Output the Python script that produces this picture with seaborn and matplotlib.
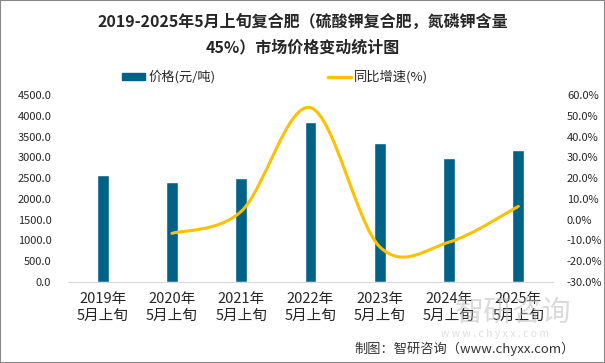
import matplotlib
matplotlib.use('Agg')
import matplotlib.pyplot as plt
import numpy as np
import pandas as pd
import seaborn as sns
from matplotlib.path import Path
from matplotlib.patches import PathPatch, Rectangle
from matplotlib.lines import Line2D

years = ['2019年\n5月上旬', '2020年\n5月上旬', '2021年\n5月上旬', '2022年\n5月上旬',
         '2023年\n5月上旬', '2024年\n5月上旬', '2025年\n5月上旬']
price = [2575, 2406, 2502, 3850, 3345, 2984, 3176]
growth = [None, -6.6, 4.0, 53.9, -13.1, -10.8, 6.4]

bar_color = '#006287'
line_color = '#FFC000'

sns.set_style('white')
plt.rcParams['font.family'] = ['Noto Sans CJK SC', 'DejaVu Sans']
plt.rcParams['axes.unicode_minus'] = False

fig = plt.figure(figsize=(6.05, 3.63), dpi=100)
ax = fig.add_axes([68 / 605, 1 - 282 / 363, (553 - 68) / 605, (282 - 95) / 363])

df = pd.DataFrame({'year': years, 'price': price})
sns.barplot(data=df, x='year', y='price', color=bar_color, width=0.17, saturation=1, ax=ax)
ax.set_xlim(-0.5, 6.5)
ax.set_ylim(0, 4500)
ax.set_yticks(np.arange(0, 4501, 500))
ax.set_yticklabels([f'{v:.1f}' for v in np.arange(0, 4501, 500)], fontsize=8)
ax.set_xlabel('')
ax.set_ylabel('')
ax.tick_params(axis='x', length=0, pad=7, labelsize=10.5)
for lab in ax.get_xticklabels():
    lab.set_linespacing(1.25)
ax.tick_params(axis='y', length=0, pad=12)
for s in ['top', 'left', 'right']:
    ax.spines[s].set_visible(False)
ax.spines['bottom'].set_color('#d9d9d9')

# growth line, smoothed the way office charts do (Catmull-Rom as Bezier)
ax2 = ax.twinx()
ax2.set_ylim(-30, 60)
ax2.set_yticks(np.arange(-30, 61, 10))
ax2.set_yticklabels([f'{v:.1f}%' for v in np.arange(-30, 61, 10)], fontsize=8)
ax2.tick_params(axis='y', length=0, pad=10)
for s in ['top', 'left', 'right', 'bottom']:
    ax2.spines[s].set_visible(False)

pts = np.array([[i, g] for i, g in enumerate(growth) if g is not None], dtype=float)
verts = [tuple(pts[0])]
codes = [Path.MOVETO]
n = len(pts)
for i in range(n - 1):
    p0 = pts[i - 1] if i > 0 else pts[i]
    p1 = pts[i]
    p2 = pts[i + 1]
    p3 = pts[i + 2] if i + 2 < n else pts[i + 1]
    c1 = p1 + (p2 - p0) / 6
    c2 = p2 - (p3 - p1) / 6
    verts += [tuple(c1), tuple(c2), tuple(p2)]
    codes += [Path.CURVE4] * 3
ax2.add_patch(PathPatch(Path(verts, codes), facecolor='none', edgecolor=line_color,
                        lw=2.2, capstyle='round', zorder=3))

# title
fig.text(0.5, 1 - 22 / 363, '2019-2025年5月上旬复合肥（硫酸钾复合肥，氮磷钾含量',
         ha='center', va='center', fontsize=11.5, fontweight='bold')
fig.text(0.5, 1 - 47 / 363, '45%）市场价格变动统计图',
         ha='center', va='center', fontsize=11.5, fontweight='bold')

# legend
handles = [Rectangle((0, 0), 1, 1, color=bar_color),
           Line2D([0], [0], color=line_color, lw=2.5)]
fig.legend(handles, ['价格(元/吨)', '同比增速(%)'], loc='center left',
           bbox_to_anchor=(122 / 605, 1 - 77 / 363), ncol=2, frameon=False,
           fontsize=9.5, borderpad=0, borderaxespad=0, handlelength=1.75,
           handleheight=0.45, handletextpad=0.25, columnspacing=8.5)

# watermark and source
fig.text(513 / 605, 1 - 313 / 363, '智研咨询', ha='center', va='center',
         fontsize=21, color='#b8b8b8', alpha=0.5)
fig.text(495 / 605, 1 - 334 / 363, 'w w w . c h y x x . c o m', ha='center', va='center',
         fontsize=7.5, color='#c8c8c8', alpha=0.6)
fig.text(575 / 605, 1 - 349 / 363, '制图：智研咨询（www.chyxx.com）', ha='right', va='center',
         fontsize=9.5, color='#333333')

fig.patches.append(Rectangle((0, 0), 1, 1, transform=fig.transFigure, fill=False,
                             edgecolor='#888888', lw=1.5))

fig.savefig('out.png', dpi=100)
